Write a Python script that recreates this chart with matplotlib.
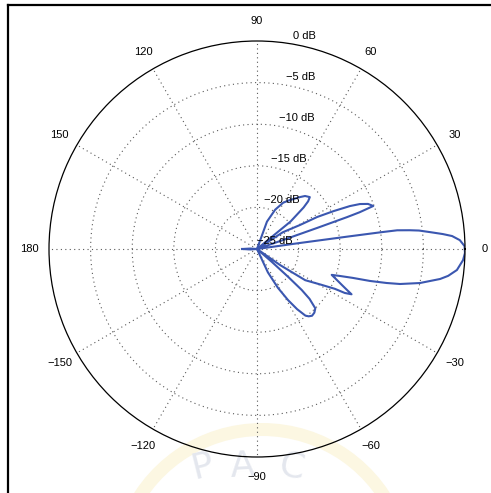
import numpy as np
import matplotlib
matplotlib.use("Agg")
import matplotlib.pyplot as plt
from matplotlib.lines import Line2D
from matplotlib.patches import Wedge

# Radiation pattern samples: direction (degrees) and normalised gain (dB)
angles_deg = [-180, -176, -170, -69, -65, -61.7, -58.7, -56.3, -54, -52.5, -50.5, -48, -45.5,
              -43.5, -42.5, -41.8, -41, -40.2,
              -36, -34.8, -32.9, -29, -27.1, -26.6, -25.6, -24.5, -23, -21.2, -19.1, -18,
              -16.8, -15.8, -14.7, -13.75, -11.8, -9.3, -8, -6, -3.1, -1.1, 0.8, 2.5, 3.8,
              4.6, 5.5, 6.5, 7.0, 7.6, 7.7, 7.8, 8.0, 8.3,
              18.7, 19.0, 19.3, 19.5, 19.7, 20.3, 22.1, 23.6, 24.8, 26.3, 28, 29.2, 33, 37,
              38.5, 39.3, 41.7, 43, 44.5, 47.8, 50.4, 56, 60.5, 65.2, 70, 76,
              170, 176, 180]
gain_db = [-23.2, -24.2, -25, -25, -21.9, -19.7, -17.8, -16.3, -15.1, -14.8, -14.6, -14.7, -15.0,
           -16.3, -17.7, -20.0, -22.6, -25,
           -25, -21.6, -18.1, -16.1, -14.5, -13.2, -12.4, -13.1, -13.9, -14.7, -15.5, -14.5,
           -13.0, -10.9, -8.9, -7.3, -5.0, -2.7, -1.8, -0.84, -0.2, 0.0, -0.05, -0.6, -1.5,
           -2.6, -4.0, -5.4, -6.5, -8.0, -10.0, -14.0, -20.0, -25,
           -25, -21.8, -17.3, -13.5, -11.9, -10.1, -10.6, -11.5, -12.7, -14.7, -16.8, -19.1, -21.3, -25,
           -25, -19.8, -17.5, -16.6, -16.1, -16.4, -16.9, -17.9, -18.6, -19.8, -21.5, -25,
           -25, -24.2, -23.2]

ring_db = [0, -5, -10, -15, -20, -25]
ring_labels = ["0 dB", "\u22125 dB", "\u221210 dB", "\u221215 dB", "\u221220 dB", "\u221225 dB"]
theta_ticks = [0, 30, 60, 90, 120, 150, 180, 210, 240, 270, 300, 330]
theta_labels = ["0", "30", "60", "90", "120", "150", "180",
                "\u2212150", "\u2212120", "\u221290", "\u221260", "\u221230"]

r_min, r_max = -25, 0
W, H = 491, 493
fig = plt.figure(figsize=(W / 100, H / 100), dpi=100)
fig.patch.set_facecolor("white")

# faint seal stamped behind the lower part of the sheet
seal = fig.add_axes([0, 0, 1, 1], zorder=-5)
seal.set_xlim(0, W)
seal.set_ylim(H, 0)
seal.axis("off")
seal.add_patch(Wedge((262, 575), 152, 200, 340, width=13, facecolor="#fcf7e2",
                     edgecolor="none"))
for ch, x, y, rot in [("P", 203, 479, 14), ("A", 243, 477, 3), ("C", 292, 479, -10)]:
    seal.text(x, y, ch, fontsize=26, color="#e4e7ee", ha="center", va="baseline",
              rotation=rot, family="DejaVu Sans")

cx, cy, R = 257, 249, 208
ax = fig.add_axes([(cx - R) / W, (H - cy - R) / H, 2 * R / W, 2 * R / H], projection="polar")
ax.patch.set_alpha(0)
ax.set_ylim(r_min, r_max)
ax.set_xticks([])
ax.set_yticks([])
ax.grid(False)
ax.spines["polar"].set_color("black")
ax.spines["polar"].set_linewidth(0.9)

dot = dict(color="0.35", lw=0.8, linestyle=(0, (1, 3)))
# dotted range rings
t = np.linspace(0, 2 * np.pi, 400)
for rv in ring_db[1:-1]:
    ax.plot(t, np.full_like(t, rv), **dot)
# dotted spokes every 30 degrees
for a in theta_ticks:
    ax.plot([np.deg2rad(a)] * 2, [r_min, r_max], **dot)

font = dict(family=["Liberation Sans", "DejaVu Sans"], fontsize=8, color="black")
label_r = r_min + 1.096 * (r_max - r_min)
for a, s in zip(theta_ticks, theta_labels):
    ax.text(np.deg2rad(a), label_r, s, ha="center", va="center", clip_on=False, **font)

for rv, s in zip(ring_db, ring_labels):
    ax.annotate(s, xy=(np.deg2rad(80), rv), xytext=(0, 6), textcoords="offset points",
                ha="left", va="center", annotation_clip=False, **font)

ax.plot(np.deg2rad(angles_deg), gain_db, color="#3b57b0", lw=1.5,
        solid_joinstyle="round")

# frame edges along the top and left
fig.add_artist(Line2D([7.5 / W, 1], [1 - 4.5 / H, 1 - 4.5 / H], color="black", lw=1.6))
fig.add_artist(Line2D([7.5 / W, 7.5 / W], [0, 1 - 4.5 / H], color="black", lw=1.6))

fig.savefig("out.png", dpi=100, facecolor="white")
